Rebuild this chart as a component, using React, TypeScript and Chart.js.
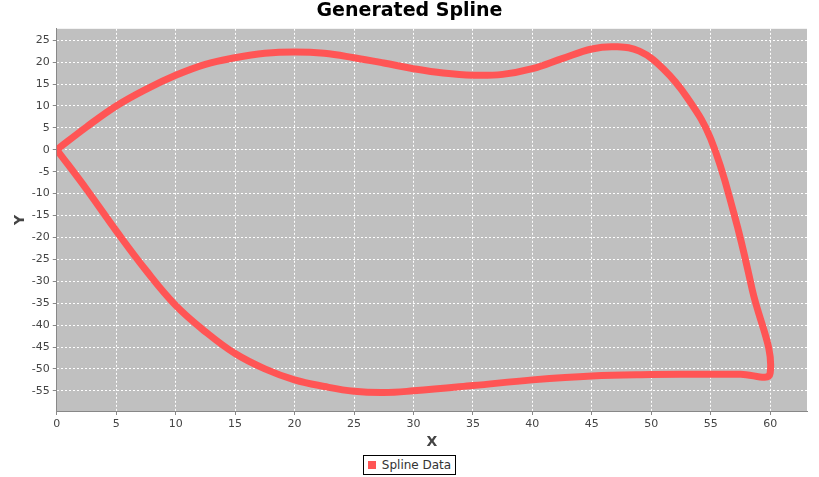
import React, { useEffect, useRef } from 'react';
import Chart from 'chart.js/auto';

// Spline outline (x, y)
const xValues = [0, 2.5, 5, 7.5, 10, 12.5, 15, 17.5, 20, 22.5, 25, 27.5, 30, 32.5, 35, 37.5, 40, 42.5, 45, 47, 49, 51, 53, 55, 57, 58.5, 60,
  57.5, 55, 50, 45, 40, 35, 30, 27.5, 25, 22.5, 20, 17.5, 15, 12.5, 10, 7.5, 5, 2.5, 0];
const yValues = [0, 5.2, 10, 13.8, 17, 19.5, 21, 22, 22.3, 22, 21, 19.8, 18.5, 17.5, 17, 17.2, 18.5, 20.8, 23, 23.5, 22.5, 18.5, 12, 2.5, -15, -32, -51,
  -51.2, -51.2, -51.3, -51.6, -52.5, -53.8, -55, -55.4, -55.1, -54, -52.5, -50, -46.5, -41.5, -35.5, -27.5, -18.5, -9, 0];
const xTicks = [0, 5, 10, 15, 20, 25, 30, 35, 40, 45, 50, 55, 60];
const yTicks = [25, 20, 15, 10, 5, 0, -5, -10, -15, -20, -25, -30, -35, -40, -45, -50, -55];

const plotBg = {
  id: 'plotBg',
  beforeDraw(chart: Chart) {
    const { ctx, chartArea: a } = chart;
    ctx.save();
    ctx.fillStyle = '#c0c0c0';
    ctx.fillRect(a.left, a.top, a.right - a.left, a.bottom - a.top);
    ctx.restore();
  },
};

export default function App() {
  const canvasRef = useRef<HTMLCanvasElement>(null);

  useEffect(() => {
    document.body.style.margin = '0';
    if (!canvasRef.current) return;
    const font = { family: 'DejaVu Sans', size: 11 };
    const chart = new Chart(canvasRef.current, {
      type: 'scatter',
      data: {
        datasets: [{
          label: 'Spline Data',
          data: xValues.map((x, i) => ({ x, y: yValues[i] })),
          showLine: true,
          tension: 0.4,
          borderColor: '#ff5555',
          backgroundColor: '#ff5555',
          borderWidth: 7,
          pointRadius: 0,
        }],
      },
      options: {
        animation: false,
        responsive: false,
        layout: { padding: { top: 0, right: 12, left: 12, bottom: 0 } },
        plugins: {
          legend: { display: false },
          tooltip: { enabled: false },
          title: {
            display: true,
            text: 'Generated Spline',
            color: '#000',
            font: { family: 'DejaVu Sans', size: 19, weight: 'bold' },
            padding: { top: 0, bottom: 6 },
          },
        },
        scales: {
          x: {
            type: 'linear',
            min: 0,
            max: 63.1,
            afterBuildTicks: (s: any) => { s.ticks = xTicks.map(v => ({ value: v })); },
            grid: { color: '#ffffff', tickColor: '#888', tickLength: 4 },
            border: { dash: [2, 2], color: '#888' },
            ticks: { color: '#444', font },
            title: { display: true, text: 'X', color: '#444', font: { family: 'DejaVu Sans', size: 14, weight: 'bold' }, padding: 0 },
          },
          y: {
            type: 'linear',
            min: -59.6,
            max: 27.6,
            afterBuildTicks: (s: any) => { s.ticks = yTicks.map(v => ({ value: v })); },
            grid: { color: '#ffffff', tickColor: '#888', tickLength: 4 },
            border: { dash: [2, 2], color: '#888' },
            ticks: { color: '#444', font },
            title: { display: true, text: 'Y', color: '#444', font: { family: 'DejaVu Sans', size: 14, weight: 'bold' }, padding: 0 },
          },
        },
      },
      plugins: [plotBg],
    });
    return () => chart.destroy();
  }, []);

  return (
    <div style={{ width: 819, height: 477, background: '#fff', fontFamily: 'DejaVu Sans' }}>
      <canvas ref={canvasRef} width={819} height={451} />
      <div style={{ display: 'flex', justifyContent: 'center', marginTop: 4 }}>
        <div style={{ border: '1px solid #000', padding: '2px 4px', fontSize: 12, color: '#333', display: 'flex', alignItems: 'center' }}>
          <span style={{ width: 8, height: 8, background: '#ff5555', display: 'inline-block', marginRight: 6 }} />
          Spline Data
        </div>
      </div>
    </div>
  );
}
